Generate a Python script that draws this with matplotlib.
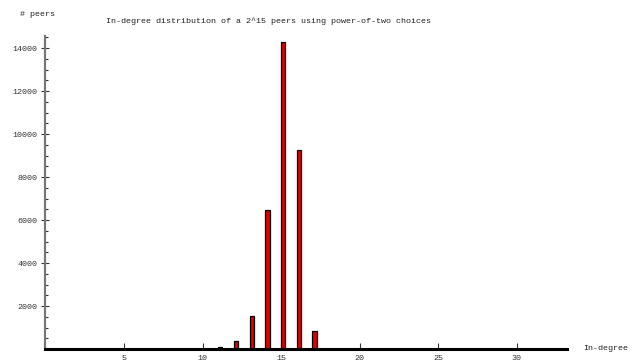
import matplotlib
matplotlib.use('Agg')
import matplotlib.pyplot as plt
from matplotlib.ticker import MultipleLocator

# in-degree values and number of peers with that in-degree
in_degree = [11, 12, 13, 14, 15, 16, 17]
num_peers = [70, 350, 1540, 6480, 14300, 9260, 860]

x_ticks = [5, 10, 15, 20, 25, 30]
y_ticks = [2000, 4000, 6000, 8000, 10000, 12000, 14000]

plt.rcParams['font.family'] = ['Liberation Mono', 'DejaVu Sans Mono']
plt.rcParams['font.size'] = 6

fig = plt.figure(figsize=(6.4, 3.64), dpi=100)
ax = fig.add_axes([45.4 / 640, 15 / 364, (567 - 45.4) / 640, (349 - 36) / 364])

# bars sit a little to the right of the integer position, as in the original
ax.bar([d + 0.13 for d in in_degree], num_peers, width=0.27, color='#e00000',
       edgecolor='black', linewidth=0.9, align='center', zorder=3)

ax.set_xlim(0, 33.2)
ax.set_ylim(0, 14560)

for s in ['top', 'right']:
    ax.spines[s].set_visible(False)
ax.spines['left'].set_color('#777777')
ax.spines['left'].set_linewidth(1.6)
ax.spines['bottom'].set_color('black')
ax.spines['bottom'].set_linewidth(2.2)
ax.spines['bottom'].set_zorder(4)

ax.set_xticks(x_ticks)
ax.set_xticklabels([str(t) for t in x_ticks])
ax.set_yticks(y_ticks)
ax.set_yticklabels([str(t) for t in y_ticks])
ax.yaxis.set_minor_locator(MultipleLocator(500))

ax.tick_params(axis='x', direction='in', length=4, width=0.8, color='#333333',
               labelcolor='#333333', pad=4)
ax.tick_params(axis='y', which='major', direction='inout', length=6, width=0.8,
               color='#333333', labelcolor='#333333', pad=3)
ax.tick_params(axis='y', which='minor', direction='in', length=2.5, width=0.8,
               color='#333333')

fig.text(20 / 640, 1 - 14 / 364, '# peers', fontsize=6, va='center', ha='left',
         color='#222222')
fig.text(268 / 640, 1 - 21 / 364,
         'In-degree distribution of a 2^15 peers using power-of-two choices',
         fontsize=6, ha='center', va='center', color='#222222')
fig.text(583 / 640, 1 - 349 / 364, 'In-degree', fontsize=6, ha='left',
         va='center', color='#222222')

fig.savefig('out.png', dpi=100)
